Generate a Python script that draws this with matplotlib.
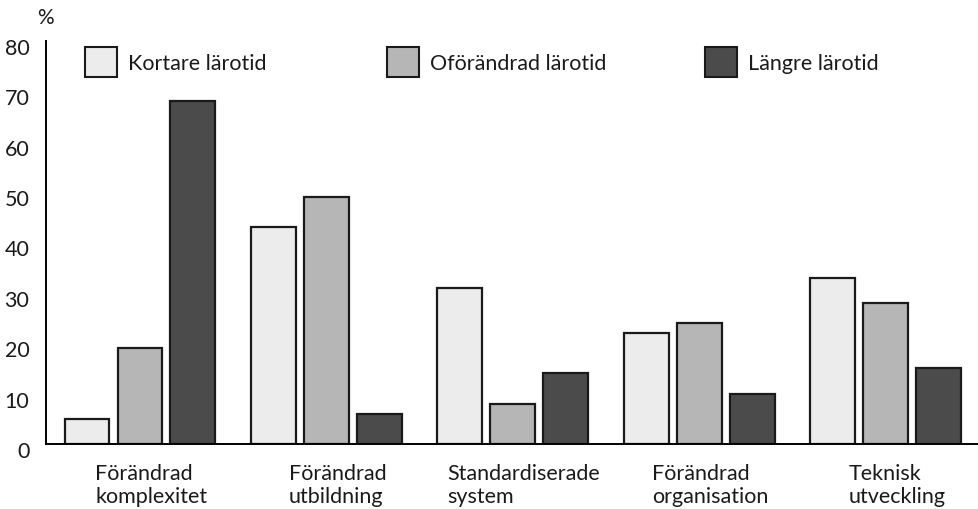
import matplotlib.pyplot as plt
import matplotlib.transforms as mtransforms
import numpy
from matplotlib.patches import Rectangle

plt.rcParams["font.family"] = ["Lato", "DejaVu Sans"]

# Data
categories = [
    "Förändrad\nkomplexitet",
    "Förändrad\nutbildning",
    "Standardiserade\nsystem",
    "Förändrad\norganisation",
    "Teknisk\nutveckling",
]
series_names = ["Kortare lärotid", "Oförändrad lärotid", "Längre lärotid"]
kortare = [5, 43, 31, 22, 33]
oforandrad = [19, 49, 8, 24, 28]
langre = [68, 6, 14, 10, 15]
yticks = [0, 10, 20, 30, 40, 50, 60, 70, 80]

colors = ["#ececec", "#b6b6b6", "#4b4b4b"]

W, H = 979, 510
fig = plt.figure(figsize=(W / 100, H / 100), dpi=100)
ax = fig.add_axes([46 / W, 1 - 445 / H, (W - 46) / W, 403 / H])

x = numpy.arange(len(categories))
width = 0.241
offset = 0.284
for i, (vals, color) in enumerate(zip([kortare, oforandrad, langre], colors)):
    ax.bar(
        x + (i - 1) * offset,
        vals,
        width=width,
        color=color,
        edgecolor="#1a1a1a",
        linewidth=1.6,
        label=series_names[i],
        zorder=2,
    )

ax.set_xlim(-0.504, 4.5)
ax.set_ylim(0, 80)
ax.spines["top"].set_visible(False)
ax.spines["right"].set_visible(False)
ax.spines["left"].set_linewidth(1.4)
ax.spines["bottom"].set_linewidth(1.4)

ax.set_yticks(yticks)
ax.set_yticklabels([str(t) for t in yticks], fontsize=15.5, color="#1a1a1a")
ax.tick_params(axis="y", length=0, pad=12)
# shift tick labels a little downward
shift = mtransforms.ScaledTranslation(0, -5 / 100, fig.dpi_scale_trans)
for lbl in ax.get_yticklabels():
    lbl.set_transform(lbl.get_transform() + shift)

ax.set_xticks(x + 0.06)
ax.set_xticklabels(categories, fontsize=15.5, color="#1a1a1a", linespacing=1.15)
for lbl in ax.get_xticklabels():
    lbl.set_multialignment("left")
ax.tick_params(axis="x", length=0, pad=14)

fig.text(45 / W, 1 - 18 / H, "%", fontsize=15, ha="center", va="center", color="#1a1a1a")

# Legend drawn as boxes across the top
legend_x = [85, 387, 705]
for lx, name, color in zip(legend_x, series_names, colors):
    fig.patches.append(
        Rectangle(
            (lx / W, 1 - 78 / H),
            32 / W,
            30 / H,
            transform=fig.transFigure,
            facecolor=color,
            edgecolor="#1a1a1a",
            linewidth=1.5,
        )
    )
    fig.text((lx + 43) / W, 1 - 64 / H, name, fontsize=15.5, va="center", ha="left", color="#1a1a1a")

plt.savefig("out.png", dpi=100)
